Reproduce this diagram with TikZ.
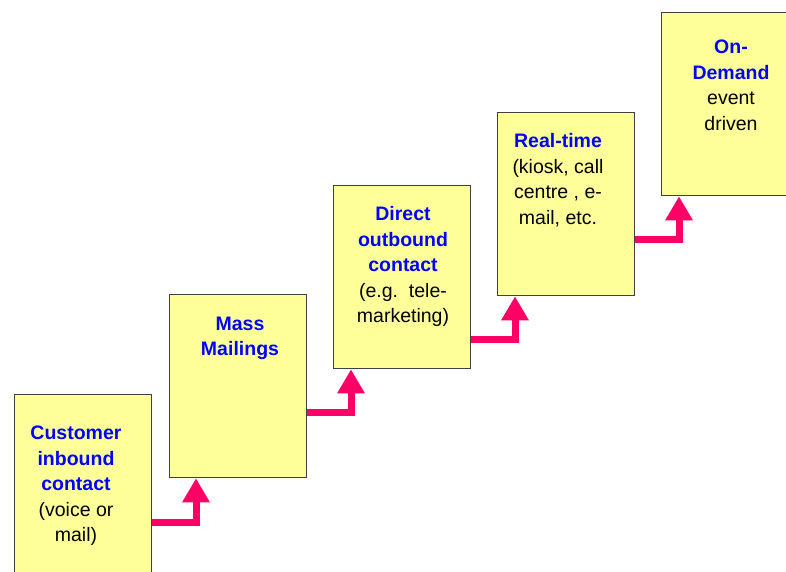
\documentclass[tikz,border=0pt]{standalone}
\usepackage{fontspec}
\setmainfont{Liberation Sans}
\usetikzlibrary{arrows.meta}
\definecolor{boxfill}{HTML}{FFFF99}
\definecolor{boxline}{HTML}{404040}
\definecolor{headblue}{HTML}{0000FF}
\definecolor{arrowpink}{HTML}{FF0066}
\begin{document}
\begin{tikzpicture}[x=1pt,y=-1pt,
  stepbox/.style={draw=boxline,line width=1.3pt,fill=boxfill,rectangle,anchor=north west,minimum width=137pt,minimum height=183pt,inner sep=0pt},
  steptext/.style={align=center,anchor=north,inner sep=0pt,font=\fontsize{19.5}{25.4}\selectfont},
  uparrow/.style={draw=arrowpink,line width=7pt,-{Triangle[width=26pt,length=24pt]}}
]
\useasboundingbox (0,0) rectangle (786,571);
\clip (0,0) rectangle (786,571);
\node[stepbox] (b1) at (14,394) {};
\node[stepbox] (b2) at (169,294) {};
\node[stepbox] (b3) at (333,185) {};
\node[stepbox] (b4) at (497,112) {};
\node[stepbox] (b5) at (661,12) {};

\node[steptext] (t1) at (76,426) {\textcolor{headblue}{\bfseries Customer}\\\textcolor{headblue}{\bfseries inbound}\\\textcolor{headblue}{\bfseries contact}\\(voice or\\mail)};
\node[steptext] (t2) at (240,316.5) {\textcolor{headblue}{\bfseries Mass}\\\textcolor{headblue}{\bfseries Mailings}};
\node[steptext] (t3) at (403,206.5) {\textcolor{headblue}{\bfseries Direct}\\\textcolor{headblue}{\bfseries outbound}\\\textcolor{headblue}{\bfseries contact}\\(e.g.~~tele-\\marketing)};
\node[steptext] (t4) at (558,133.5) {\textcolor{headblue}{\bfseries Real-time}\\(kiosk, call\\centre , e-\\mail, etc.};
\node[steptext] (t5) at (731,40) {\textcolor{headblue}{\bfseries On-}\\\textcolor{headblue}{\bfseries Demand}\\event\\driven};

\draw[uparrow] (b1.east |- 0,522) -| ([xshift=27pt]b2.south west);
\draw[uparrow] (b2.east |- 0,412) -| ([xshift=18pt]b3.south west);
\draw[uparrow] (b3.east |- 0,339) -| ([xshift=18pt]b4.south west);
\draw[uparrow] (b4.east |- 0,239) -| ([xshift=18pt]b5.south west);
\end{tikzpicture}
\end{document}
